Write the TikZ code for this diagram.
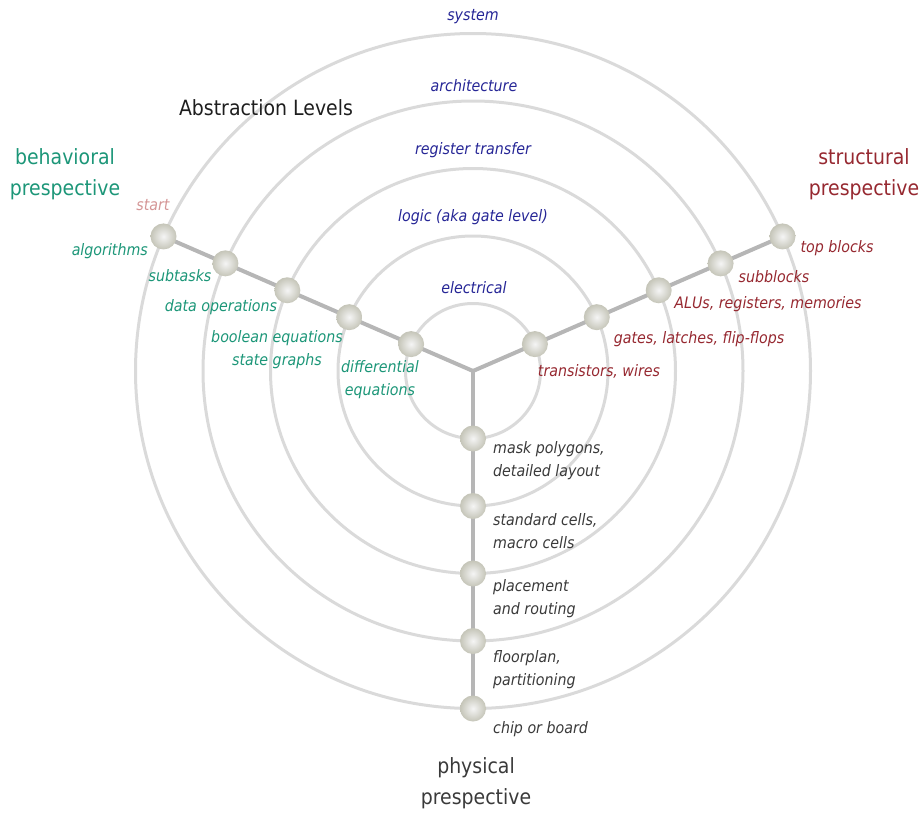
\documentclass[tikz,border=0pt]{standalone}
\usepackage{fontspec}
\setmainfont{DejaVu Sans}[FakeStretch=0.9]
\usetikzlibrary{backgrounds}

\definecolor{ringgray}{RGB}{218,218,218}
\definecolor{armgray}{RGB}{182,182,182}
\definecolor{lvlblue}{RGB}{38,38,150}
\definecolor{behteal}{RGB}{28,150,120}
\definecolor{strred}{RGB}{150,40,48}
\definecolor{phygray}{RGB}{58,58,58}
\definecolor{startpink}{RGB}{212,150,150}
\definecolor{titlegray}{RGB}{30,30,30}

\tikzset{
  ring/.style={draw=ringgray, line width=3pt},
  arm/.style={draw=armgray, line width=4pt, line cap=round},
  knob/.style={circle, minimum size=26pt, inner sep=0pt,
    inner color=white!92!gray, outer color=black!24!white!95!yellow},
  small/.style={font=\fontsize{15.8}{23}\selectfont\itshape, inner sep=0pt},
  big/.style={font=\fontsize{21}{31}\selectfont, inner sep=0pt, align=center},
  lvl/.style={small, text=lvlblue, anchor=mid},
  beh/.style={small, text=behteal},
  str/.style={small, text=strred, anchor=mid},
  phy/.style={small, text=phygray, align=left, anchor=west},
}

\begin{document}
\begin{tikzpicture}[x=1pt, y=-1pt]
  \useasboundingbox (0,0) rectangle (922,814);
  \coordinate (hub) at (473,371);

  % knobs on the three axes: behavioral (b), structural (s), physical (p)
  \foreach \i/\r in {1/67.5, 2/135, 3/202.5, 4/270, 5/337.5} {
    \node[knob] (b\i) at ([shift={(203.5:\r)}]hub) {};
    \node[knob] (s\i) at ([shift={(-23.5:\r)}]hub) {};
    \node[knob] (p\i) at ([shift={(90:\r)}]hub) {};
  }

  % rings of the abstraction levels and the three axes behind the knobs
  \begin{pgfonlayer}{background}
    \foreach \r in {67.5, 135, 202.5, 270, 337.5}
      \draw[ring] (hub) circle[radius=\r];
    \draw[arm] (hub) -- (b5.center);
    \draw[arm] (hub) -- (s5.center);
    \draw[arm] (hub) -- (p5.center);
  \end{pgfonlayer}

  % level names
  \node[lvl] (lsys)  at (473,18)  {system};
  \node[lvl] (larch) at (474,89)  {architecture};
  \node[lvl] (lrt)   at (473,152) {register transfer};
  \node[lvl] (llog)  at (473,219) {logic (aka gate level)};
  \node[lvl] (lel)   at (474,291) {electrical};

  % headings
  \node[big, text=titlegray] (title) at (266,108) {Abstraction Levels};
  \node[big, text=behteal] (hbeh) at (65,174) {behavioral\\prespective};
  \node[big, text=strred]  (hstr) at (864,174) {structural\\prespective};
  \node[big, text=phygray] (hphy) at (476,783) {physical\\prespective};

  % behavioral axis
  \node[small, text=startpink, anchor=mid] (tstart) at (153,208) {start};
  \node[beh, anchor=mid east] (tb5) at (148,253) {algorithms};
  \node[beh, anchor=mid] (tb4) at (180,279) {subtasks};
  \node[beh, anchor=mid] (tb3) at (221,309) {data operations};
  \node[beh, align=center] (tb2) at (277,350) {boolean equations\\state graphs};
  \node[beh, align=center] (tb1) at (380,380) {differential\\equations};

  % structural axis
  \node[str] (ts1) at (599,374) {transistors, wires};
  \node[str] (ts2) at (699,341) {gates, latches, flip-flops};
  \node[str] (ts3) at (768,306) {ALUs, registers, memories};
  \node[str] (ts4) at (774,280) {subblocks};
  \node[str] (ts5) at (837,250) {top blocks};

  % physical axis
  \node[phy] (tp1) at (493,461) {mask polygons,\\detailed layout};
  \node[phy] (tp2) at (493,531) {standard cells,\\macro cells};
  \node[phy] (tp3) at (493,599) {placement\\and routing};
  \node[phy] (tp4) at (493,670) {floorplan,\\partitioning};
  \node[phy, anchor=mid west] (tp5) at (493,731) {chip or board};
\end{tikzpicture}
\end{document}
